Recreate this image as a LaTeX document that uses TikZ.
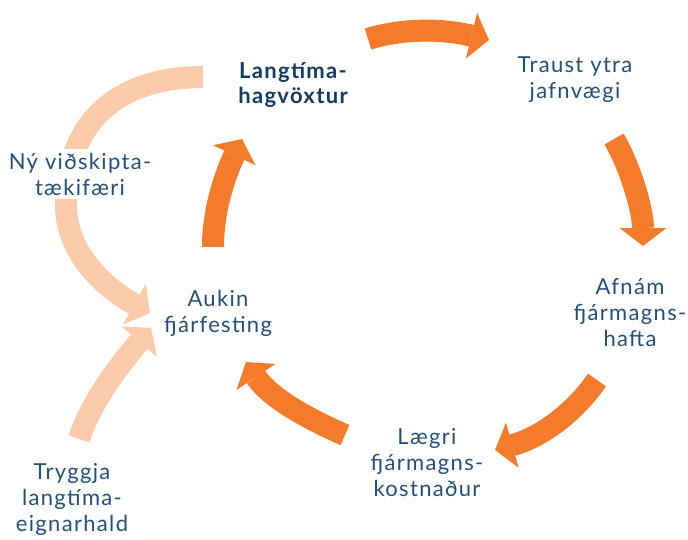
\documentclass[tikz,border=0pt]{standalone}
\usepackage{fontspec}
\setmainfont{Lato}[LetterSpace=6]
\usetikzlibrary{arrows.meta}
\definecolor{orng}{HTML}{F47B2A}
\definecolor{peach}{HTML}{FBCAAA}
\definecolor{txt}{HTML}{23507A}
\definecolor{txtb}{HTML}{113C62}
\begin{document}
\begin{tikzpicture}[x=1pt,y=-1pt,
  lbl/.style={font=\fontsize{22}{26}\selectfont, text=txt, align=center, inner sep=2pt},
  lblb/.style={lbl, text=txtb, font=\fontsize{22}{25}\selectfont\bfseries},
  cyc/.style={draw=orng, line width=22pt, line cap=butt,
    -{Triangle[width=47pt,length=18pt,line width=0pt]}},
  side/.style={cyc, draw=peach}
]
\useasboundingbox (0,0) rectangle (688,539);
% arrow end points
\coordinate (a1s) at (368,39);   \coordinate (a1e) at (489,40);
\coordinate (a2s) at (614,139);  \coordinate (a2e) at (643,246);
\coordinate (a3s) at (597,380);  \coordinate (a3e) at (495,450);
\coordinate (a4s) at (345,435);  \coordinate (a4e) at (246,362);
\coordinate (a5s) at (213,247);  \coordinate (a5e) at (242,139);
\coordinate (a6s) at (203,77);   \coordinate (a6m) at (66,205);  \coordinate (a6e) at (150,313);
\coordinate (a7s) at (79,439);   \coordinate (a7e) at (151,328);
% light arrows
\draw[side] (a6s) .. controls (120,77) and (66,120) .. (a6m)
  .. controls (66,250) and (100,285) .. (a6e);
\draw[side] (a7s) .. controls (90,405) and (115,370) .. (a7e);
% cycle arrows
\draw[cyc] (a1s) .. controls (400,29) and (440,28) .. (a1e);
\draw[cyc] (a2s) .. controls (630,166) and (643,210) .. (a2e);
\draw[cyc] (a3s) .. controls (577,409) and (545,436) .. (a3e);
\draw[cyc] (a4s) .. controls (310,420) and (270,398) .. (a4e);
\draw[cyc] (a5s) .. controls (213,210) and (225,175) .. (a5e);
% labels
\node[lblb] (lang) at (293,85) {Langtíma-\\hagvöxtur};
\node[lbl] (traust) at (575,80) {Traust ytra\\jafnvægi};
\node[lbl] (afnam) at (630,313) {Afnám\\fjármagns-\\hafta};
\node[lbl] (laegri) at (427,463) {Lægri\\fjármagns-\\kostnaður};
\node[lbl] (aukin) at (218,313) {Aukin\\fjárfesting};
\node[lbl, fill=white, inner sep=4pt] (ny) at (80,174) {Ný viðskipta-\\tækifæri};
\node[lbl] (tryggja) at (72,499) {Tryggja\\langtíma-\\eignarhald};
\end{tikzpicture}
\end{document}
